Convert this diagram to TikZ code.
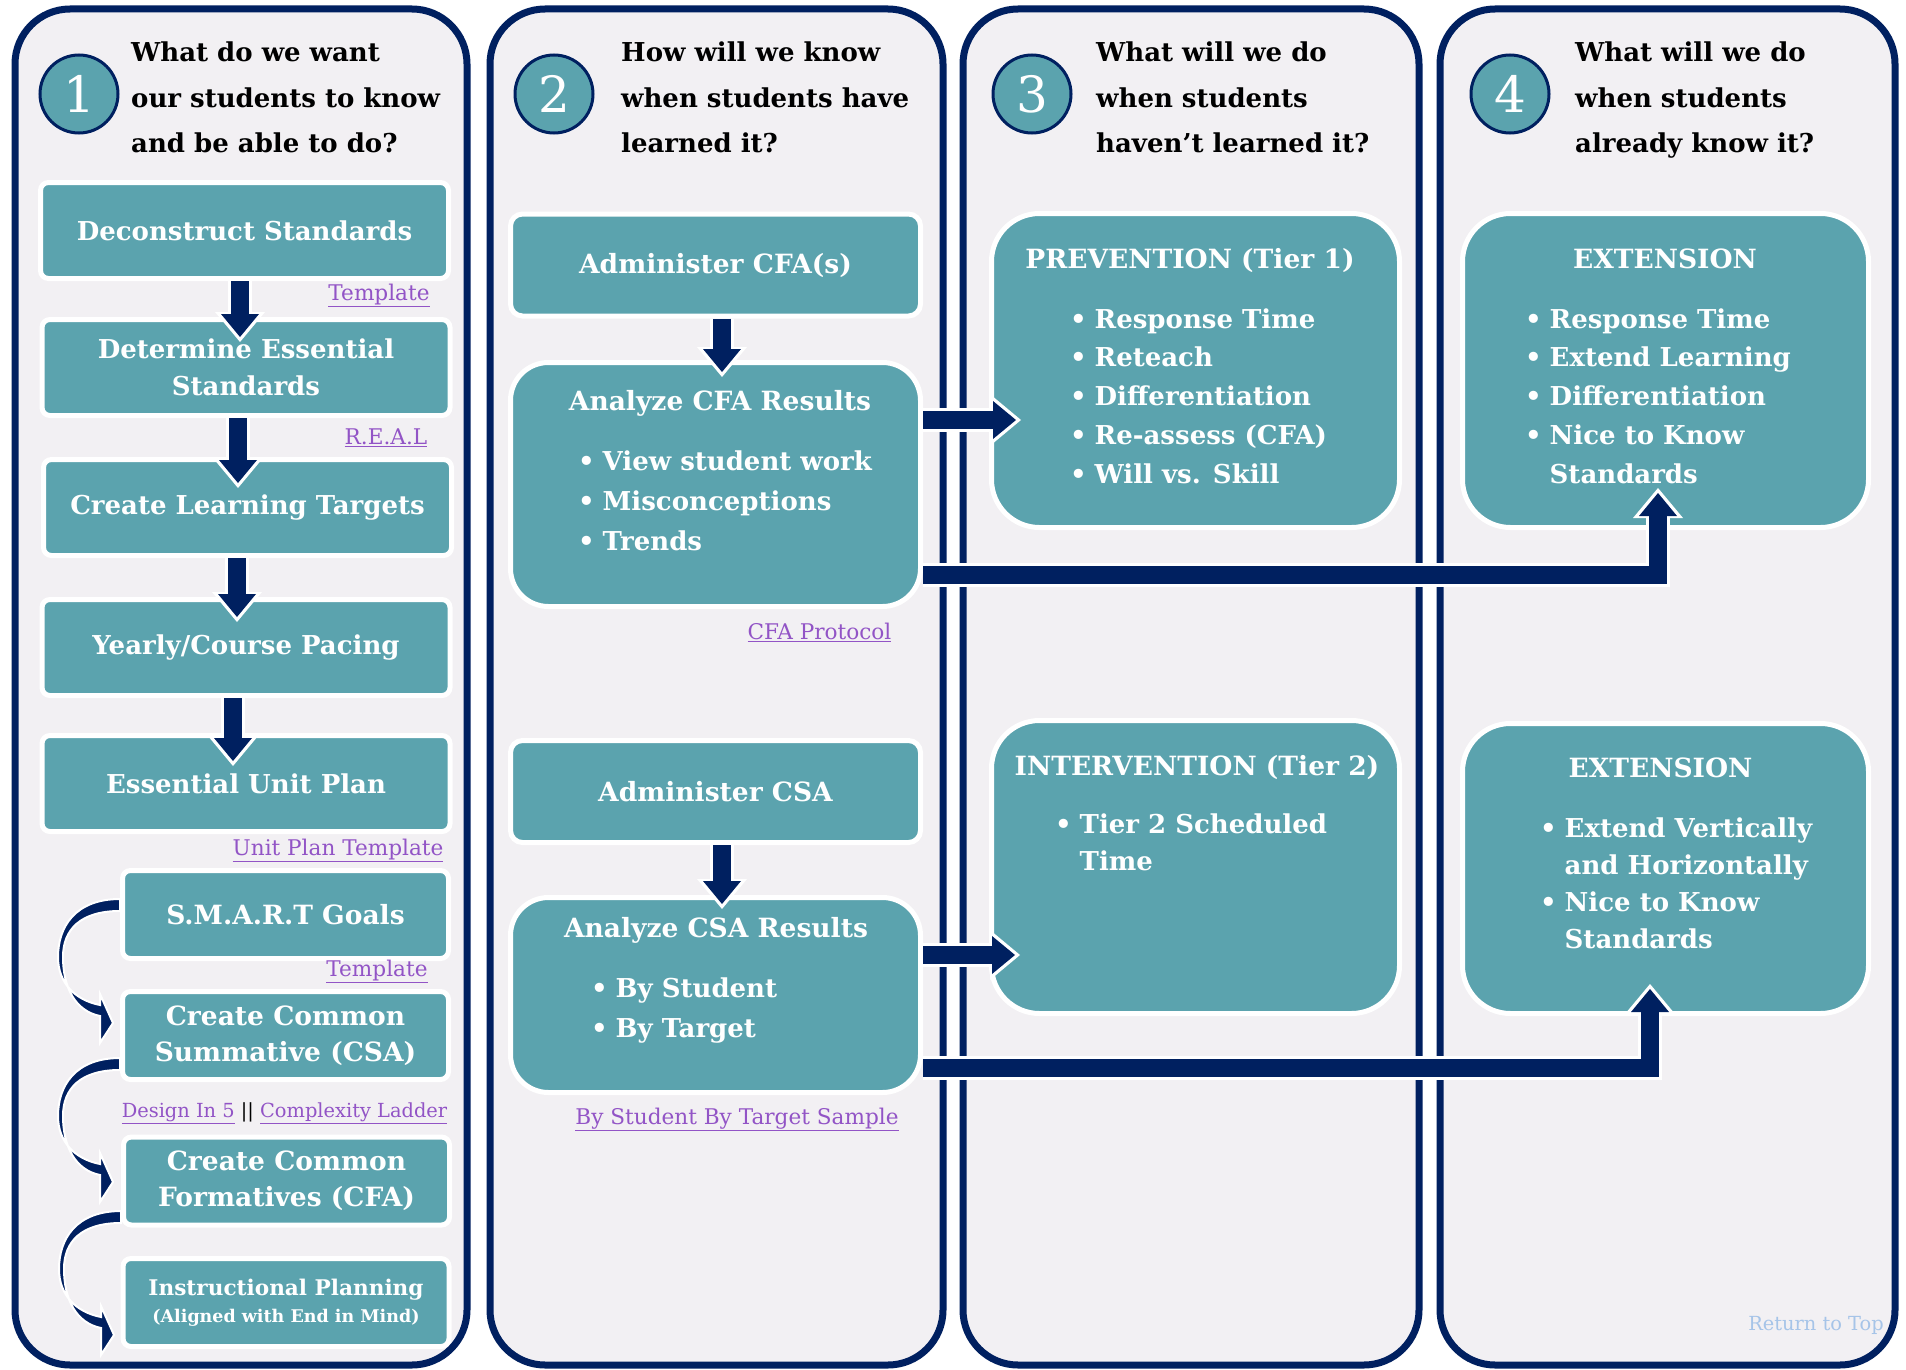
\documentclass[tikz,border=0pt]{standalone}
\usepackage{fontspec}
\setmainfont{DejaVu Serif}
\usetikzlibrary{arrows.meta,calc}

\definecolor{plcnavy}{HTML}{002060}
\definecolor{plcteal}{HTML}{5BA3AE}
\definecolor{plcpanel}{HTML}{F2F0F3}
\definecolor{plclink}{HTML}{9254C6}
\definecolor{plcreturn}{HTML}{A6C4E8}

\tikzset{
  panel/.style={draw=plcnavy, line width=7pt, fill=plcpanel, rounded corners=55pt},
  numcircle/.style={circle, draw=plcnavy, line width=3pt, fill=plcteal, minimum size=78pt, inner sep=0pt, text=white, font=\fontsize{50}{50}\selectfont},
  question/.style={anchor=base west, align=left, inner sep=0pt, font=\bfseries\fontsize{26}{45.5}\selectfont},
  stepbox/.style={rectangle, draw=white, line width=5pt, fill=plcteal, rounded corners=8pt, inner sep=0pt, text=white, align=center, font=\bfseries\fontsize{26}{36.5}\selectfont, minimum width=408pt, minimum height=96pt},
  substep/.style={stepbox, font=\bfseries\fontsize{26.5}{36}\selectfont, minimum width=326pt, minimum height=88pt},
  adminbox/.style={stepbox, font=\bfseries\fontsize{26.5}{36}\selectfont, rounded corners=12pt, minimum width=410pt, minimum height=102pt},
  resultbox/.style={stepbox, rounded corners=38pt, minimum width=410pt},
  tierbox/.style={stepbox, rounded corners=48pt, minimum width=406pt},
  boxtitle/.style={anchor=base, inner sep=0pt, text=white, font=\bfseries\fontsize{26.5}{30}\selectfont},
  bulletlist/.style={anchor=base west, align=left, inner sep=0pt, text=white},
  linktext/.style={anchor=base, inner sep=0pt, text=plclink, font=\fontsize{21.6}{26}\selectfont},
  blockarrow/.style={draw=plcnavy, line width=18pt, line join=miter,
    -{Triangle[length=23pt,width=38pt,line width=0pt]},
    preaction={draw=white, line width=24pt, shorten >=-5pt, -{Triangle[length=30pt,width=50pt,line width=0pt]}}},
  curvearrow/.style={fill=plcnavy, draw=white, line width=2pt, line join=miter}
}

\newcommand{\plcnumber}[3] {\node at (#1) (#2) [numcircle] {#3};}
\newcommand{\plcquestion}[3] {\node at (#1) (#2) [question] {#3};}
\newcommand{\plcstep}[3] {\node at (#1) (#2) [stepbox] {#3};}
\newcommand{\plcsubstep}[3] {\node at (#1) (#2) [substep] {#3};}
\newcommand{\plclink}[3] {\node at (#1) (#2) [linktext] {\underline{#3}};}
% list nodes sit on the baseline of their last line
\newcommand{\plclist}[4] {\node at (#1) (#2) [bulletlist, font=\bfseries\fontsize{26}{#3}\selectfont] {#4};}
\newcommand{\plcdown}[4] {\draw [blockarrow] (#3,0 |- #1.south) -- ($(#3,0 |- #2.north)+(0,#4)$);}
\newcommand{\plccurve}[1] {\begin{scope}[shift={(#1)}]
  \filldraw [curvearrow] (0,-6) .. controls (-45,-6) and (-62,22) .. (-62,52)
    .. controls (-62,78) and (-45,95) .. (-20,100) -- (-20,89) -- (-7,118) -- (-20,138) -- (-20,111)
    .. controls (-45,106) and (-57,82) .. (-57,52) .. controls (-57,25) and (-40,6) .. (0,6) -- cycle;
  \end{scope}}
\newcommand{\plcbl}{\makebox[24.5pt][l]{•}}
\newcommand{\plcgap}{\hspace*{24.5pt}}

\begin{document}
\begin{tikzpicture}[x=1pt, y=-1pt]
\useasboundingbox [fill=white] (0,0) rectangle (1906,1370);

% the four panels
\draw [panel] (15,9) rectangle (467,1365);
\draw [panel] (490,9) rectangle (943,1365);
\draw [panel] (963,9) rectangle (1419,1365);
\draw [panel] (1440,9) rectangle (1895,1365);

% questions
\plcnumber {79,94} {n1} {1};
\plcnumber {554,94} {n2} {2};
\plcnumber {1032,94} {n3} {3};
\plcnumber {1510,94} {n4} {4};
\plcquestion {131,153} {q1} {What do we want\\our students to know\\and be able to do?};
\plcquestion {621,153} {q2} {How will we know\\when students have\\learned it?};
\plcquestion {1096,153} {q3} {What will we do\\when students\\haven’t learned it?};
\plcquestion {1575,153} {q4} {What will we do\\when students\\already know it?};

% column 1
\plcstep {244.5,230.5} {decon} {Deconstruct Standards};
\plcstep {246,367.5} {determ} {Determine Essential\\Standards};
\plcstep {247.5,507.5} {targets} {Create Learning Targets};
\plcstep {246,647.5} {pacing} {Yearly/Course Pacing};
\plcstep {246,783.5} {unitplan} {Essential Unit Plan};
\plcsubstep {285.5,914.5} {smart} {S.M.A.R.T Goals};
\plcsubstep {285.5,1035.5} {csa} {Create Common\\Summative (CSA)};
\plcsubstep {286.5,1181} {cfa} {Create Common\\Formatives (CFA)};
\node at (286,1302.5) (instr) [substep, font=\bfseries\fontsize{21.6}{27}\selectfont] {Instructional Planning\\{\fontsize{17.5}{20}\selectfont (Aligned with End in Mind)}};

\plclink {379,300} {tmpl1} {Template};
\plclink {386,444} {real} {R.E.A.L};
\plclink {338,855} {unittmpl} {Unit Plan Template};
\plclink {377,976} {tmpl2} {Template};
\node at (284.5,1117) (design) [linktext, font=\fontsize{19.4}{24}\selectfont] {\underline{Design In 5} {\color{black}||} \underline{Complexity Ladder}};

\plcdown {decon} {determ} {240} {20};
\plcdown {determ} {targets} {238} {26};
\plcdown {targets} {pacing} {237} {20};
\plcdown {pacing} {unitplan} {233} {28};
\plccurve {smart.west |- 0,905};
\plccurve {csa.west |- 0,1064};
\plccurve {cfa.west |- 0,1217};

% column 2
\node at (715.5,265) (admcfa) [adminbox] {Administer CFA(s)};
\node at (715.5,484.5) (cfares) [resultbox, minimum height=244pt] {};
\node at (720,410) (cfatitle) [boxtitle] {Analyze CFA Results};
\plclist {578,550} {cfalist} {40} {\plcbl View student work\\\plcbl Misconceptions\\\plcbl Trends};
\plclink {819.5,639} {cfaprot} {CFA Protocol};
\node at (715.5,791.5) (admcsa) [adminbox] {Administer CSA};
\node at (715.5,995) (csares) [resultbox, minimum height=195pt] {};
\node at (716,937) (csatitle) [boxtitle] {Analyze CSA Results};
\plclist {591,1037} {csalist} {40} {\plcbl By Student\\\plcbl By Target};
\plclink {737,1124} {sample} {By Student By Target Sample};
\plcdown {admcfa} {cfares} {722} {12};
\plcdown {admcsa} {csares} {722} {9};

% column 3
\node at (1195.5,370.5) (prev) [tierbox, minimum width=408pt, minimum height=314pt] {};
\node at (1190,268) (prevtitle) [boxtitle] {PREVENTION (Tier 1)};
\plclist {1070,483} {prevlist} {38.75} {\plcbl Response Time\\\plcbl Reteach\\\plcbl Differentiation\\\plcbl Re-assess (CFA)\\\plcbl Will vs. Skill};
\node at (1195.5,867) (interv) [tierbox, minimum width=408pt, minimum height=293pt] {};
\node at (1197,775) (intervtitle) [boxtitle] {INTERVENTION (Tier 2)};
\plclist {1055,870} {intervlist} {37} {\plcbl Tier 2 Scheduled\\\plcgap Time};

% column 4
\node at (1665.5,370.5) (ext1) [tierbox, minimum height=314pt] {};
\node at (1665,268) (ext1title) [boxtitle] {EXTENSION};
\plclist {1525,483} {ext1list} {38.75} {\plcbl Response Time\\\plcbl Extend Learning\\\plcbl Differentiation\\\plcbl Nice to Know\\\plcgap Standards};
\node at (1665.5,868.5) (ext2) [tierbox, minimum height=290pt] {};
\node at (1660.5,777) (ext2title) [boxtitle] {EXTENSION};
\plclist {1540,948} {ext2list} {37} {\plcbl Extend Vertically\\\plcgap and Horizontally\\\plcbl Nice to Know\\\plcgap Standards};
\node at (1816,1330) (returntop) [anchor=base, inner sep=0pt, text=plcreturn, font=\fontsize{19.4}{22}\selectfont] {Return to Top};

% arrows across the columns
\draw [blockarrow] (cfares.east |- 0,420) -- ($(prev.west |- 0,420)+(27,0)$);
\draw [blockarrow] (cfares.east |- 0,575) -| ($(1658,0 |- ext1.south)+(0,-37)$);
\draw [blockarrow] (csares.east |- 0,955) -- ($(interv.west |- 0,955)+(26,0)$);
\draw [blockarrow] (csares.east |- 0,1068) -| ($(1650,0 |- ext2.south)+(0,-27)$);

\end{tikzpicture}
\end{document}
